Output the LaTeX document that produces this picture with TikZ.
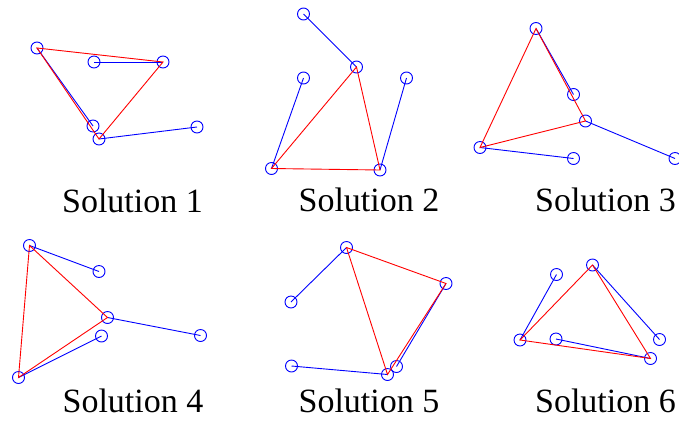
\documentclass[tikz,border=0pt]{standalone}
\usepackage{fontspec}
\setmainfont{Liberation Serif}
\begin{document}
\begin{tikzpicture}[x=1pt,y=-1pt,
  pt/.style={draw=blue,circle,minimum size=12pt,inner sep=0pt,line width=0.9pt},
  bl/.style={draw=blue,line width=0.9pt},
  rd/.style={draw=red,line width=0.9pt},
  lab/.style={anchor=base,inner sep=0pt,font=\fontsize{34}{40}\selectfont}]
\useasboundingbox (0,0) rectangle (679,421);
\begin{scope}
\clip (0,0) rectangle (679,421);
% Panel 1
\node[pt] (A) at (37,48) {};
\node[pt] (B) at (94,62) {};
\node[pt] (C) at (163,62) {};
\node[pt] (D) at (93,126) {};
\node[pt] (E) at (99,139) {};
\node[pt] (F) at (197,127) {};
\draw[bl] (B.center) -- (C.center);
\draw[bl] (A.center) -- (D.center);
\draw[bl] (E.center) -- (F.center);
\draw[rd] (A.center) -- (C.center) -- (E.center) -- cycle;
% Panel 2
\node[pt] (G) at (303.5,14) {};
\node[pt] (H) at (356.5,67) {};
\node[pt] (I) at (303.5,78) {};
\node[pt] (J) at (406.5,78) {};
\node[pt] (K) at (271.5,168.5) {};
\node[pt] (L) at (380,170) {};
\draw[bl] (G.center) -- (H.center);
\draw[bl] (I.center) -- (K.center);
\draw[bl] (J.center) -- (L.center);
\draw[rd] (K.center) -- (H.center) -- (L.center) -- cycle;
% Panel 3
\node[pt] (M) at (536,28.5) {};
\node[pt] (N) at (573.5,94.5) {};
\node[pt] (O) at (585.5,121) {};
\node[pt] (P) at (480,147.5) {};
\node[pt] (Q) at (573.5,158.5) {};
\node[pt] (R) at (675,158.5) {};
\draw[bl] (M.center) -- (N.center);
\draw[bl] (O.center) -- (R.center);
\draw[bl] (P.center) -- (Q.center);
\draw[rd] (M.center) -- (O.center) -- (P.center) -- cycle;
% Panel 4
\node[pt] (S) at (29.5,245.5) {};
\node[pt] (T) at (99,271.5) {};
\node[pt] (U) at (107.5,317.5) {};
\node[pt] (V) at (101.5,336) {};
\node[pt] (W) at (200.5,335.5) {};
\node[pt] (X) at (18.5,377.5) {};
\draw[bl] (S.center) -- (T.center);
\draw[bl] (U.center) -- (W.center);
\draw[bl] (X.center) -- (V.center);
\draw[rd] (S.center) -- (U.center) -- (X.center) -- cycle;
% Panel 5
\node[pt] (a) at (346.5,247.5) {};
\node[pt] (b) at (446,283.5) {};
\node[pt] (c) at (291,302) {};
\node[pt] (d) at (291.5,366) {};
\node[pt] (e) at (396.5,366.5) {};
\node[pt] (f) at (387.5,374.5) {};
\draw[bl] (a.center) -- (c.center);
\draw[bl] (b.center) -- (e.center);
\draw[bl] (d.center) -- (f.center);
\draw[rd] (a.center) -- (b.center) -- (f.center) -- cycle;
% Panel 6
\node[pt] (g) at (592.5,265) {};
\node[pt] (h) at (556.5,274.5) {};
\node[pt] (i) at (520,340) {};
\node[pt] (j) at (556,339) {};
\node[pt] (k) at (659.5,339.5) {};
\node[pt] (l) at (650.5,358.5) {};
\draw[bl] (h.center) -- (i.center);
\draw[bl] (j.center) -- (l.center);
\draw[bl] (g.center) -- (k.center);
\draw[rd] (g.center) -- (i.center) -- (l.center) -- cycle;
\end{scope}
% Labels
\node[lab] (s1) at (132.5,212) {Solution 1};
\node[lab] (s2) at (369,211.5) {Solution 2};
\node[lab] (s3) at (605.5,211.5) {Solution 3};
\node[lab] (s4) at (133,412.5) {Solution 4};
\node[lab] (s5) at (369,412.5) {Solution 5};
\node[lab] (s6) at (605.5,412.5) {Solution 6};
\end{tikzpicture}
\end{document}
